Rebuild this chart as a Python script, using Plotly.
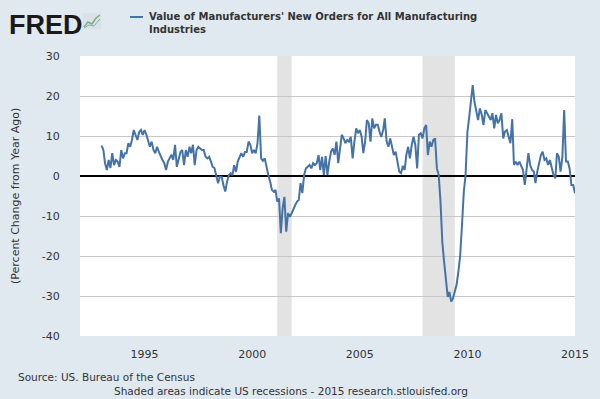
import plotly.graph_objects as go
import pandas as pd

# ---- data: year-over-year % change, monthly, Jan 1993 .. Jan 2015 ----
v1993 = [7.6, 6.5, 3.2, 1.5, 4.0, 2.0, 5.7, 2.7, 4.0, 3.6, 2.3, 6.5]
v1994 = [4.4, 5.7, 5.7, 8.2, 7.3, 9.0, 11.5, 10.3, 9.0, 11.0, 11.5, 10.3]
v1995 = [11.5, 10.3, 9.0, 7.3, 8.6, 6.5, 5.7, 7.3, 6.0, 4.8, 4.0, 3.2]
v1996 = [1.5, 3.6, 4.4, 5.3, 4.0, 7.8, 2.3, 4.0, 6.0, 6.5, 2.7, 6.5]
v1997 = [4.8, 7.3, 5.7, 7.8, 2.7, 6.5, 7.3, 6.9, 6.5, 6.5, 4.8, 4.4]
v1998 = [4.8, 3.6, 2.3, 2.0, -0.2, -1.8, -0.2, -0.2, -2.3, -3.9, -1.4, 0.2]
v1999 = [0.7, 0.2, 2.7, 1.0, 3.6, 4.8, 5.7, 4.8, 6.0, 6.0, 8.6, 7.8]
v2000 = [5.7, 6.5, 5.7, 8.2, 15.1, 4.4, 3.8, 4.4, 1.9, 0.25, -1.4, -3.5]
v2001 = [-3.9, -3.5, -6.4, -5.6, -14.3, -8.1, -5.2, -13.9, -9.3, -10.2, -9.3, -8.1]
v2002 = [-7.25, -6.4, -6.0, -1.8, -4.3, 0.25, 1.9, 2.3, 2.75, 1.9, 3.2, 2.75]
v2003 = [3.2, 5.25, 1.5, 4.8, 0.25, 5.0, 0.25, 3.6, 6.1, 6.9, 5.3, 8.6]
v2004 = [3.2, 6.9, 10.3, 9.4, 8.2, 9.0, 8.6, 9.8, 4.4, 8.6, 11.9, 10.7]
v2005 = [11.5, 9.8, 5.7, 8.6, 14.0, 13.2, 8.6, 14.4, 11.9, 12.8, 12.8, 11.1]
v2006 = [9.8, 11.5, 14.4, 8.6, 7.3, 9.4, 7.3, 5.25, 6.1, 3.6, 1.1, 0.7]
v2007 = [2.5, 1.5, 5.25, 7.3, 4.4, 7.75, 9.8, 7.75, 1.9, 10.3, 10.7, 9.4]
v2008 = [11.9, 12.75, 5.25, 8.6, 7.3, 9.0, 9.4, 1.9, 0.3, -6.4, -16.5, -21.4]
v2009 = [-26.8, -30.2, -29.0, -31.4, -30.6, -28.9, -27.2, -23.9, -19.75, -12.25, -3.9, 0.25]
v2010 = [11.0, 14.8, 18.6, 22.75, 18.5, 15.7, 14.0, 16.9, 15.3, 12.75, 16.5, 15.7]
v2011 = [14.8, 14.0, 15.7, 11.9, 15.25, 13.2, 14.0, 15.7, 9.4, 11.1, 11.5, 9.8]
v2012 = [8.2, 14.2, 2.75, 3.6, 2.75, 3.6, 2.3, 1.5, -2.25, 1.1, 5.7, 2.75]
v2013 = [1.5, 1.1, -1.8, 1.1, 3.6, 5.25, 6.1, 4.0, 4.4, 2.75, 4.0, 2.3]
v2014 = [0.25, -0.6, 5.7, 4.8, 1.1, 4.8, 16.5, 3.6, 3.6, 1.9, -2.25, -2.25]
v2015 = [-4.3]

first_month = "1993-01-01"
recession_starts = ["2001-03-01", "2007-12-01"]
recession_ends = ["2001-11-01", "2009-06-01"]
y_ticks = [30, 20, 10, 0, -10, -20, -30, -40]
x_tick_years = [1995, 2000, 2005, 2010, 2015]
series_name = "Value of Manufacturers' New Orders for All Manufacturing<br>Industries"

values = (v1993 + v1994 + v1995 + v1996 + v1997 + v1998 + v1999 + v2000 + v2001
          + v2002 + v2003 + v2004 + v2005 + v2006 + v2007 + v2008 + v2009 + v2010
          + v2011 + v2012 + v2013 + v2014 + v2015)
dates = pd.date_range(first_month, periods=len(values), freq="MS")

W, H = 600, 399
ML, MR, MT, MB = 80, 25, 56, 63
PW, PH = W - ML - MR, H - MT - MB


def px(x):
    return (x - ML) / PW


def py(y):
    return (H - MB - y) / PH


fig = go.Figure()
fig.add_trace(go.Scatter(x=dates, y=values, mode="lines",
                         line=dict(color="#4572A7", width=2),
                         name=series_name, hoverinfo="x+y"))

shapes = []
for s, e in zip(recession_starts, recession_ends):
    shapes.append(dict(type="rect", xref="x", yref="paper", x0=s, x1=e, y0=0, y1=1,
                       fillcolor="#E3E3E3", line=dict(width=0), layer="below"))

# legend dash
shapes.append(dict(type="line", xref="paper", yref="paper",
                   x0=px(130), x1=px(143), y0=py(17), y1=py(17),
                   line=dict(color="#4572A7", width=2)))
# small FRED icon
shapes.append(dict(type="rect", xref="paper", yref="paper",
                   x0=px(83), x1=px(101), y0=py(29), y1=py(13),
                   fillcolor="#D9E2E6", line=dict(width=0)))
shapes.append(dict(type="path", xref="paper", yref="paper",
                   path="M {} {} L {} {} L {} {} L {} {} L {} {}".format(
                       px(84), py(27), px(88), py(22), px(92), py(24), px(96), py(18), px(100), py(15)),
                   line=dict(color="#7FB07A", width=1.5)))
shapes.append(dict(type="path", xref="paper", yref="paper",
                   path="M {} {} L {} {} L {} {} L {} {}".format(
                       px(84), py(28), px(89), py(25), px(94), py(26), px(100), py(19)),
                   line=dict(color="#8FA9C2", width=1)))

annotations = [
    dict(text="<b>FRED</b>", xref="paper", yref="paper", x=px(7), y=py(8),
         xanchor="left", yanchor="top", showarrow=False,
         font=dict(family="Liberation Sans", size=27, color="#1A1A1A")),
    dict(text="<b>" + series_name + "</b>", xref="paper", yref="paper",
         x=px(147), y=py(9), xanchor="left", yanchor="top", align="left",
         showarrow=False, font=dict(family="DejaVu Sans", size=10, color="#333333")),
    dict(text="(Percent Change from Year Ago)", xref="paper", yref="paper",
         x=px(15), y=py(196), textangle=-90, xanchor="center", yanchor="middle",
         showarrow=False, font=dict(family="DejaVu Sans", size=11, color="#333333")),
    dict(text="Source: US. Bureau of the Census", xref="paper", yref="paper",
         x=px(16), y=py(377), xanchor="left", yanchor="middle", showarrow=False,
         font=dict(family="DejaVu Sans", size=10.5, color="#333333")),
    dict(text="Shaded areas indicate US recessions - 2015 research.stlouisfed.org",
         xref="paper", yref="paper", x=px(291), y=py(391), xanchor="center",
         yanchor="middle", showarrow=False,
         font=dict(family="DejaVu Sans", size=10.5, color="#333333")),
]

fig.update_layout(
    width=W, height=H,
    margin=dict(l=ML, r=MR, t=MT, b=MB),
    paper_bgcolor="#E1E9F0", plot_bgcolor="#FFFFFF",
    showlegend=False,
    font=dict(family="DejaVu Sans", size=11, color="#333333"),
    shapes=shapes, annotations=annotations,
    xaxis=dict(type="date", range=["1992-01-01", "2015-01-01"],
               tickvals=[f"{y}-01-01" for y in x_tick_years],
               ticktext=[str(y) for y in x_tick_years],
               showgrid=False, zeroline=False, showline=False,
               ticks="outside", ticklen=8, tickcolor="rgba(0,0,0,0)",
               tickfont=dict(family="DejaVu Sans", size=11, color="#333333")),
    yaxis=dict(range=[-40, 30], tickvals=y_ticks, ticktext=[str(t) for t in y_ticks],
               showgrid=True, gridcolor="#C8C8C8", gridwidth=1,
               zeroline=True, zerolinecolor="#000000", zerolinewidth=2,
               showline=False, ticks="outside", ticklen=17,
               tickcolor="rgba(0,0,0,0)",
               tickfont=dict(family="DejaVu Sans", size=11, color="#333333")),
)

fig.write_html("out.html", config={"displayModeBar": False},
               post_script="document.body.style.margin='0px';document.body.style.padding='0px';")
